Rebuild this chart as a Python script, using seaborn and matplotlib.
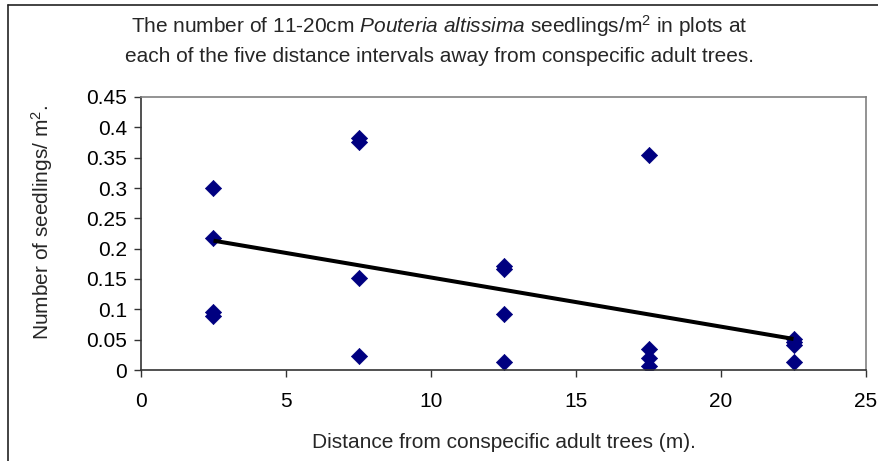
import matplotlib
matplotlib.use("Agg")
import matplotlib.pyplot as plt
import seaborn as sns
import pandas as pd
from matplotlib.lines import Line2D

distance = [2.5, 2.5, 2.5, 2.5,
            7.5, 7.5, 7.5, 7.5,
            12.5, 12.5, 12.5, 12.5,
            17.5, 17.5, 17.5, 17.5,
            22.5, 22.5, 22.5, 22.5]
seedlings = [0.300, 0.217, 0.096, 0.089,
             0.382, 0.375, 0.152, 0.023,
             0.171, 0.167, 0.093, 0.014,
             0.354, 0.034, 0.019, 0.007,
             0.051, 0.046, 0.041, 0.013]
x_ticks = [0, 5, 10, 15, 20, 25]
y_ticks = [0, 0.05, 0.1, 0.15, 0.2, 0.25, 0.3, 0.35, 0.4, 0.45]
y_tick_labels = ["0", "0.05", "0.1", "0.15", "0.2", "0.25", "0.3", "0.35", "0.4", "0.45"]

df = pd.DataFrame({"distance": distance, "seedlings": seedlings})

sns.set_style("white")
plt.rcParams["font.family"] = ["Liberation Sans", "DejaVu Sans"]
plt.rcParams["mathtext.fontset"] = "custom"
plt.rcParams["mathtext.rm"] = "Liberation Sans"
plt.rcParams["mathtext.it"] = "Liberation Sans:italic"

FS = 15
W, H = 879, 461
L, R, B, T = 141, 866, 370, 97

fig = plt.figure(figsize=(8.79, 4.61), dpi=100)
ax = fig.add_axes([L / W, 1 - B / H, (R - L) / W, (B - T) / H])

sns.regplot(data=df, x="distance", y="seedlings", ax=ax, scatter=False, ci=None,
            line_kws=dict(color="black", lw=2.9, zorder=3, solid_capstyle="butt"))
sns.scatterplot(data=df, x="distance", y="seedlings", ax=ax, marker="D", s=68,
                color="#000080", edgecolor="#000080", linewidth=0.5, zorder=2)

ax.set_xlim(0, 25)
ax.set_ylim(0, 0.45)
ax.set_xticks(x_ticks)
ax.set_xticklabels([str(t) for t in x_ticks])
ax.set_yticks(y_ticks)
ax.set_yticklabels(y_tick_labels)
ax.tick_params(axis="both", which="major", labelsize=FS, direction="out",
               length=5, width=1, color="#333333", labelcolor="black",
               bottom=True, left=True, pad=5)
ax.tick_params(axis="x", pad=11)

for side in ["top", "right"]:
    ax.spines[side].set_color("#808080")
    ax.spines[side].set_linewidth(1.2)
for side in ["left", "bottom"]:
    ax.spines[side].set_color("#333333")
    ax.spines[side].set_linewidth(1.2)

ax.set_xlabel("Distance from conspecific adult trees (m).", fontsize=FS)
ax.set_ylabel("Number of seedlings/ m$^2$.", fontsize=FS)
ax.xaxis.set_label_coords(((L + R) / 2 - L) / (R - L), (B - 443) / (B - T))
ax.xaxis.label.set_va("center")
ax.yaxis.set_label_coords((42 - L) / (R - L), (B - 222) / (B - T))
ax.yaxis.label.set_va("center")

fig.text(0.5, 1 - 26 / H, r"The number of 11-20cm $\it{Pouteria\ altissima}$ seedlings/m$^2$ in plots at",
         ha="center", va="center", fontsize=FS)
fig.text(0.5, 1 - 56 / H, "each of the five distance intervals away from conspecific adult trees.",
         ha="center", va="center", fontsize=FS)

# outer chart border (left and top visible)
fig.add_artist(Line2D([8 / W, 8 / W], [0, 1 - 5 / H], transform=fig.transFigure,
                      color="#222222", lw=1.2))
fig.add_artist(Line2D([8 / W, 1], [1 - 5 / H, 1 - 5 / H], transform=fig.transFigure,
                      color="#222222", lw=1.2))

fig.savefig("out.png", dpi=100)
